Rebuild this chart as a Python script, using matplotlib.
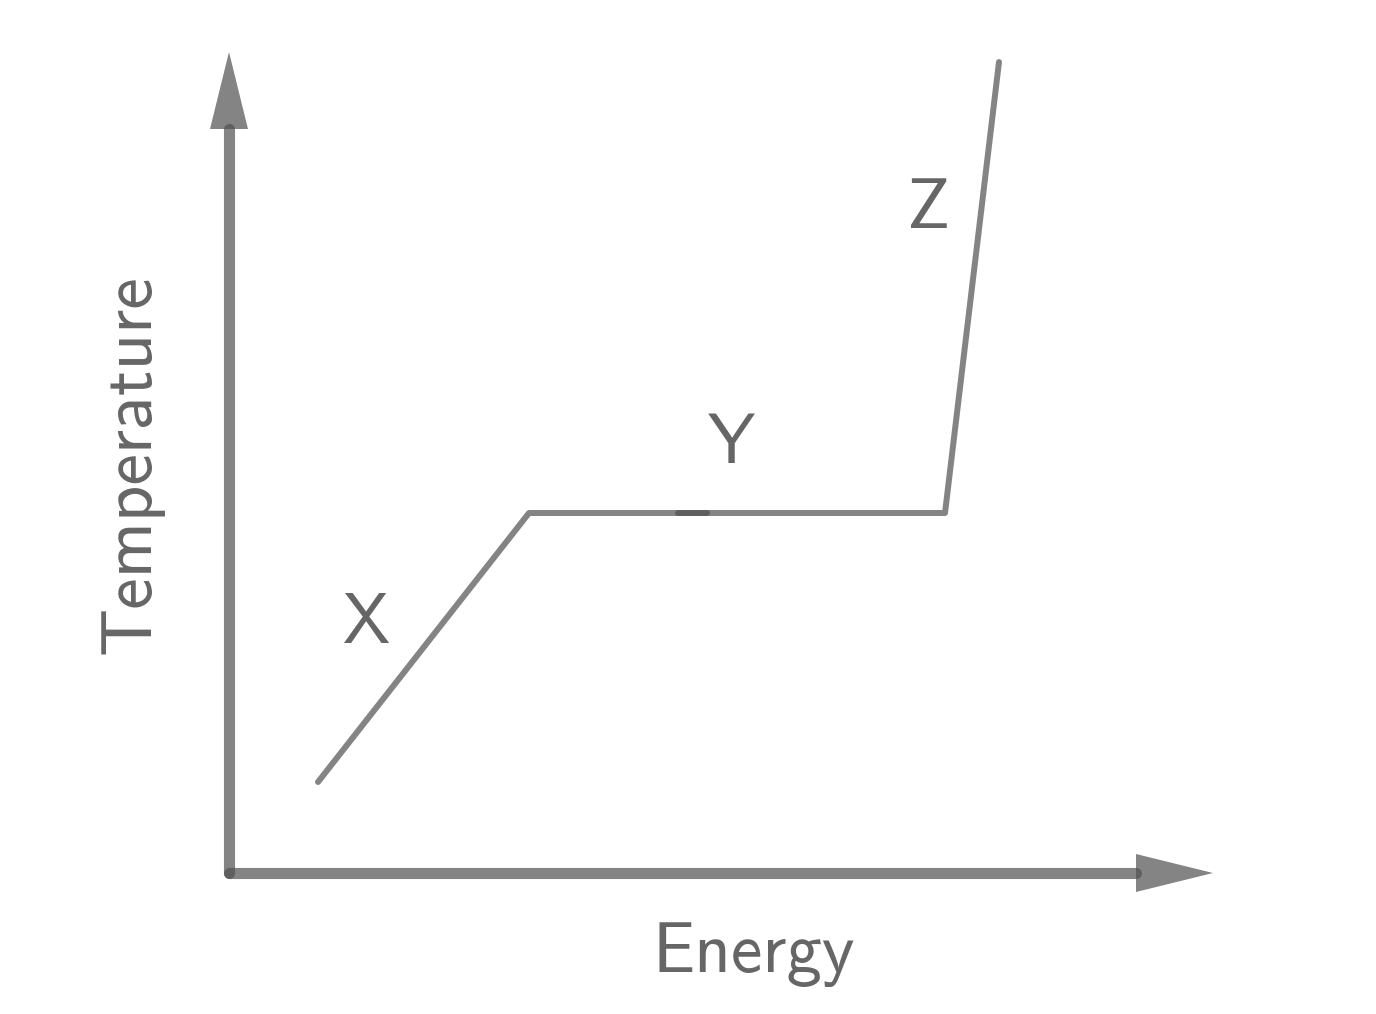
import matplotlib
matplotlib.use("Agg")
import matplotlib.pyplot as plt
import numpy as np

# heating curve: energy vs temperature (arbitrary units)
seg1_energy = [0.89, 3.0, 4.78]
seg1_temp = [0.91, 3.6, 3.6]
seg2_energy = [4.49, 7.16, 7.70]
seg2_temp = [3.6, 3.6, 8.11]

phase_labels = ["X", "Y", "Z"]
label_energy = [1.38, 5.02, 7.0]
label_temp = [2.48, 4.28, 6.63]

x_axis_end = 9.07
y_axis_end = 7.44
head_len = 0.77
head_half = 0.19

ink = "#505050"
alpha = 0.7
text_col = "#666666"
fam = ["cmss10", "DejaVu Sans"]
fs = 51

fig = plt.figure(figsize=(13.76, 10.14), dpi=100)
ax = fig.add_axes([0, 0, 1, 1])
ax.set_xlim(-2.29, 11.47)
ax.set_ylim(-1.41, 8.73)
ax.axis("off")

# axes with arrow heads
ax.plot([0, x_axis_end], [0, 0], color=ink, alpha=alpha, lw=8, solid_capstyle="round")
ax.plot([0, 0], [0, y_axis_end], color=ink, alpha=alpha, lw=8, solid_capstyle="round")
ax.fill([x_axis_end, x_axis_end + head_len, x_axis_end],
        [head_half, 0, -head_half], color=ink, alpha=alpha, lw=0)
ax.fill([-head_half, 0, head_half],
        [y_axis_end, y_axis_end + head_len, y_axis_end], color=ink, alpha=alpha, lw=0)

# curve
ax.plot(seg1_energy, seg1_temp, color=ink, alpha=alpha, lw=4.3,
        solid_capstyle="round", solid_joinstyle="round")
ax.plot(seg2_energy, seg2_temp, color=ink, alpha=alpha, lw=4.3,
        solid_capstyle="round", solid_joinstyle="round")

for lab, ex, ty in zip(phase_labels, label_energy, label_temp):
    ax.text(ex, ty, lab, ha="center", va="center", fontsize=fs,
            color=text_col, family=fam)

ax.text(5.25, -0.82, "Energy", ha="center", va="center", fontsize=fs,
        color=text_col, family=fam)
ax.text(-0.98, 4.09, "Temperature", ha="center", va="center", fontsize=fs,
        rotation=90, color=text_col, family=fam)

fig.savefig("out.png", dpi=100)
